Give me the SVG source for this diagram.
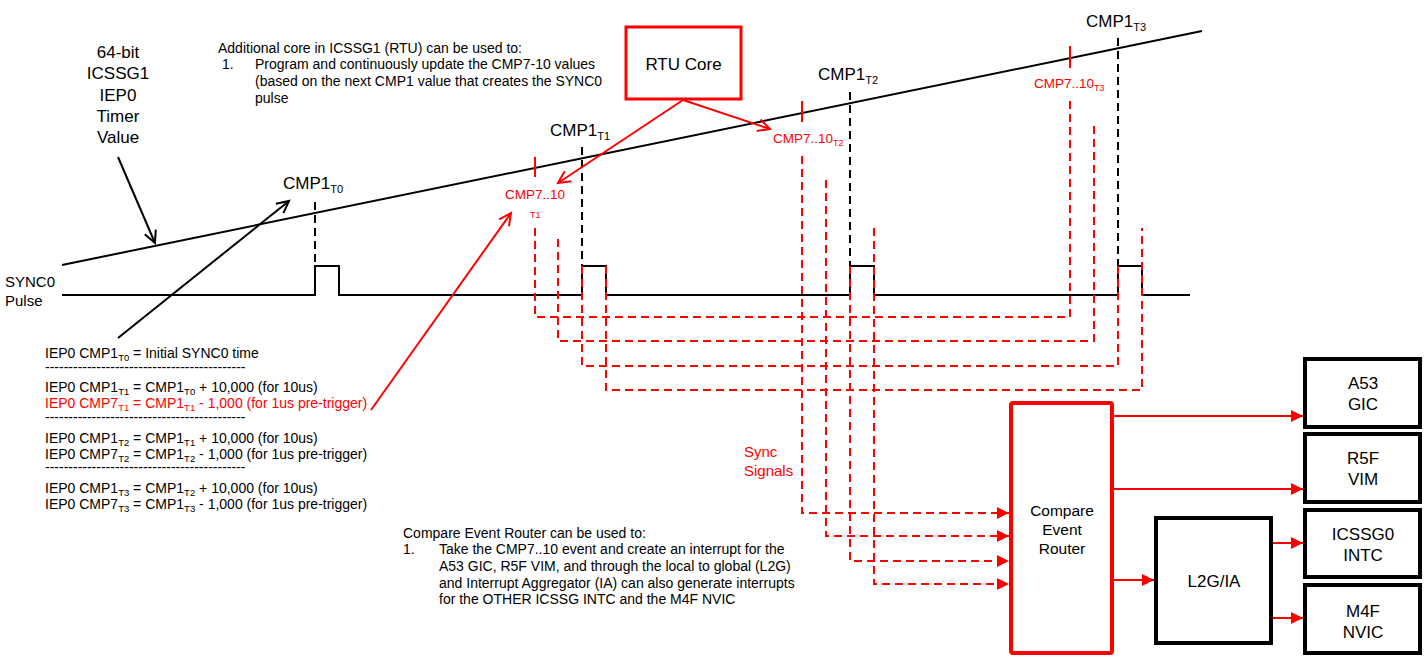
<svg xmlns="http://www.w3.org/2000/svg" width="1427" height="672" viewBox="0 0 1427 672">
<defs>
<style>
text{font-family:"Liberation Sans",Arial,sans-serif;fill:#000;white-space:pre}
.r{fill:#f00}
.t14{font-size:14px}
.t17{font-size:17px}
.lbl{font-size:17px;text-anchor:middle}
.red7{font-size:13.5px;fill:#f00}
.red7s{font-size:9px;fill:#f00}
.sd{stroke:#f00;stroke-width:2;stroke-dasharray:8 5;fill:none}
.kd{stroke:#000;stroke-width:2;stroke-dasharray:8 5;fill:none}
.ka{stroke:#000;stroke-width:2;fill:none}
.ra{stroke:#f00;stroke-width:2;fill:none}
.box{fill:#fff;stroke:#000;stroke-width:4}
.rbox{fill:#fff;stroke:#f00;stroke-width:4}
</style>
<marker id="openK" markerWidth="16" markerHeight="16" refX="13" refY="8" orient="auto" markerUnits="userSpaceOnUse"><path d="M1,2 L13,8 L1,14" fill="none" stroke="#000" stroke-width="2"/></marker>
<marker id="openR" markerWidth="16" markerHeight="16" refX="13" refY="8" orient="auto" markerUnits="userSpaceOnUse"><path d="M1,2 L13,8 L1,14" fill="none" stroke="#f00" stroke-width="2"/></marker>
<marker id="tri" markerWidth="12" markerHeight="12" refX="12" refY="6" orient="auto" markerUnits="userSpaceOnUse"><path d="M0,0 L12,6 L0,12 Z" fill="#f00"/></marker>
</defs>
<rect width="1427" height="672" fill="#fff"/>

<g id="connectors">
<line x1="62" y1="265" x2="1202" y2="31" class="ka"/>
<path d="M62,295 H315 V266 H339 V295 H582 V266 H606 V295 H850 V266 H874 V295 H1118 V266 H1142 V295 H1190" class="ka"/>
<line x1="315" y1="202" x2="315" y2="266" class="kd"/>
<line x1="582" y1="147" x2="582" y2="266" class="kd"/>
<line x1="850" y1="92" x2="850" y2="266" class="kd"/>
<line x1="1118" y1="38" x2="1118" y2="266" class="kd"/>
<line x1="535" y1="157" x2="535" y2="177" class="ra"/>
<line x1="802" y1="101" x2="802" y2="122" class="ra"/>
<line x1="1070" y1="46" x2="1070" y2="68" class="ra"/>
<path d="M535,228 V317 H1070 V100" class="sd"/>
<path d="M558,239 V341 H1094 V125" class="sd"/>
<path d="M582,266 V366 H1118 V266" class="sd"/>
<path d="M606,266 V390 H1142 V228" class="sd"/>
<path d="M802,156 V513 H1009" class="sd" marker-end="url(#tri)"/>
<path d="M826,180 V536 H1009" class="sd" marker-end="url(#tri)"/>
<path d="M850,266 V561 H1009" class="sd" marker-end="url(#tri)"/>
<path d="M874,228 V584 H1009" class="sd" marker-end="url(#tri)"/>
<line x1="1112" y1="416" x2="1303" y2="416" class="ra" marker-end="url(#tri)"/>
<line x1="1112" y1="489" x2="1303" y2="489" class="ra" marker-end="url(#tri)"/>
<line x1="1112" y1="580" x2="1154" y2="580" class="ra" marker-end="url(#tri)"/>
<line x1="1271" y1="543" x2="1303" y2="543" class="ra" marker-end="url(#tri)"/>
<line x1="1271" y1="618" x2="1303" y2="618" class="ra" marker-end="url(#tri)"/>
<line x1="118" y1="157" x2="155" y2="243" class="ka" marker-end="url(#openK)"/>
<line x1="118" y1="338" x2="289" y2="201" class="ka" marker-end="url(#openK)"/>
<line x1="683" y1="100" x2="558" y2="183" class="ra" marker-end="url(#openR)"/>
<line x1="683" y1="100" x2="770" y2="129" class="ra" marker-end="url(#openR)"/>
<line x1="371" y1="410" x2="511" y2="213" class="ra" marker-end="url(#openR)"/>
</g>

<g id="timer-label">
<text class="lbl" x="118" y="58">64-bit</text>
<text class="lbl" x="118" y="79">ICSSG1</text>
<text class="lbl" x="118" y="101">IEP0</text>
<text class="lbl" x="118" y="122">Timer</text>
<text class="lbl" x="118" y="143">Value</text>
</g>

<g id="sync0-label">
<text x="5" y="287" style="font-size:15px">SYNC0</text>
<text x="5" y="306" style="font-size:15px">Pulse</text>
</g>

<g id="cmp1-labels">
<text class="t17" x="283" y="189">CMP1<tspan font-size="11" dy="4">T0</tspan></text>
<text class="t17" x="550" y="136">CMP1<tspan font-size="11" dy="4">T1</tspan></text>
<text class="t17" x="818" y="80">CMP1<tspan font-size="11" dy="4">T2</tspan></text>
<text class="t17" x="1086" y="27">CMP1<tspan font-size="11" dy="4">T3</tspan></text>
</g>

<g id="cmp7-labels">
<text class="red7" x="505" y="199">CMP7..10</text>
<text class="red7s" x="530" y="218">T1</text>
<text class="red7" x="773" y="143">CMP7..10<tspan font-size="9" dy="3">T2</tspan></text>
<text class="red7" x="1034" y="88">CMP7..10<tspan font-size="9" dy="3">T3</tspan></text>
</g>

<g id="rtu-note">
<text class="t14" x="218" y="53">Additional core in ICSSG1 (RTU) can be used to:</text>
<text class="t14" x="222" y="69">1.</text>
<text class="t14" x="255" y="69">Program and continuously update the CMP7-10 values</text>
<text class="t14" x="255" y="86">(based on the next CMP1 value that creates the SYNC0</text>
<text class="t14" x="255" y="103">pulse</text>
</g>

<g id="rtu-core">
<rect x="626" y="27" width="115" height="72" fill="#fff" stroke="#f00" stroke-width="3"/>
<text x="683.5" y="70" class="lbl">RTU Core</text>
</g>

<g id="formulas">
<text class="t14" x="45" y="358">IEP0 CMP1<tspan font-size="9.5" dy="3">T0</tspan><tspan dy="-3"> = Initial SYNC0 time</tspan></text>
<text class="t14" x="45" y="372">-------------------------------------------</text>
<text class="t14" x="45" y="392">IEP0 CMP1<tspan font-size="9.5" dy="3">T1</tspan><tspan dy="-3"> = CMP1</tspan><tspan font-size="9.5" dy="3">T0</tspan><tspan dy="-3"> + 10,000 (for 10us)</tspan></text>
<text class="t14 r" x="45" y="408">IEP0 CMP7<tspan font-size="9.5" dy="3">T1</tspan><tspan dy="-3"> = CMP1</tspan><tspan font-size="9.5" dy="3">T1</tspan><tspan dy="-3"> - 1,000 (for 1us pre-trigger)</tspan></text>
<text class="t14" x="45" y="422">-------------------------------------------</text>
<text class="t14" x="45" y="443">IEP0 CMP1<tspan font-size="9.5" dy="3">T2</tspan><tspan dy="-3"> = CMP1</tspan><tspan font-size="9.5" dy="3">T1</tspan><tspan dy="-3"> + 10,000 (for 10us)</tspan></text>
<text class="t14" x="45" y="459">IEP0 CMP7<tspan font-size="9.5" dy="3">T2</tspan><tspan dy="-3"> = CMP1</tspan><tspan font-size="9.5" dy="3">T2</tspan><tspan dy="-3"> - 1,000 (for 1us pre-trigger)</tspan></text>
<text class="t14" x="45" y="472">-------------------------------------------</text>
<text class="t14" x="45" y="493">IEP0 CMP1<tspan font-size="9.5" dy="3">T3</tspan><tspan dy="-3"> = CMP1</tspan><tspan font-size="9.5" dy="3">T2</tspan><tspan dy="-3"> + 10,000 (for 10us)</tspan></text>
<text class="t14" x="45" y="509">IEP0 CMP7<tspan font-size="9.5" dy="3">T3</tspan><tspan dy="-3"> = CMP1</tspan><tspan font-size="9.5" dy="3">T3</tspan><tspan dy="-3"> - 1,000 (for 1us pre-trigger)</tspan></text>
</g>

<g id="router-note">
<text class="t14" x="403" y="538">Compare Event Router can be used to:</text>
<text class="t14" x="403" y="554">1.</text>
<text class="t14" x="439" y="554">Take the CMP7..10 event and create an interrupt for the</text>
<text class="t14" x="439" y="571">A53 GIC, R5F VIM, and through the local to global (L2G)</text>
<text class="t14" x="439" y="588">and Interrupt Aggregator (IA) can also generate interrupts</text>
<text class="t14" x="439" y="604">for the OTHER ICSSG INTC and the M4F NVIC</text>
</g>

<g id="sync-signals-label">
<text class="r" x="744" y="457" style="font-size:15px">Sync</text>
<text class="r" x="744" y="476" style="font-size:15px">Signals</text>
</g>

<g id="compare-event-router">
<rect class="rbox" x="1011" y="403" width="101" height="250" rx="2"/>
<text x="1062" y="516" style="font-size:15.5px;text-anchor:middle">Compare</text>
<text x="1062" y="535" style="font-size:15.5px;text-anchor:middle">Event</text>
<text x="1062" y="554" style="font-size:15.5px;text-anchor:middle">Router</text>
</g>

<g id="l2g-ia">
<rect class="box" x="1156" y="518" width="115" height="125"/>
<text class="lbl" x="1214" y="587">L2G/IA</text>
</g>

<g id="a53-gic">
<rect class="box" x="1305" y="359" width="115" height="68"/>
<text class="lbl" x="1363" y="389">A53</text>
<text class="lbl" x="1363" y="410">GIC</text>
</g>

<g id="r5f-vim">
<rect class="box" x="1305" y="434" width="115" height="68"/>
<text class="lbl" x="1363" y="464">R5F</text>
<text class="lbl" x="1363" y="485">VIM</text>
</g>

<g id="icssg0-intc">
<rect class="box" x="1305" y="510" width="115" height="67"/>
<text class="lbl" x="1363" y="540">ICSSG0</text>
<text class="lbl" x="1363" y="561">INTC</text>
</g>

<g id="m4f-nvic">
<rect class="box" x="1305" y="585" width="115" height="68"/>
<text class="lbl" x="1363" y="617">M4F</text>
<text class="lbl" x="1363" y="638">NVIC</text>
</g>
</svg>
